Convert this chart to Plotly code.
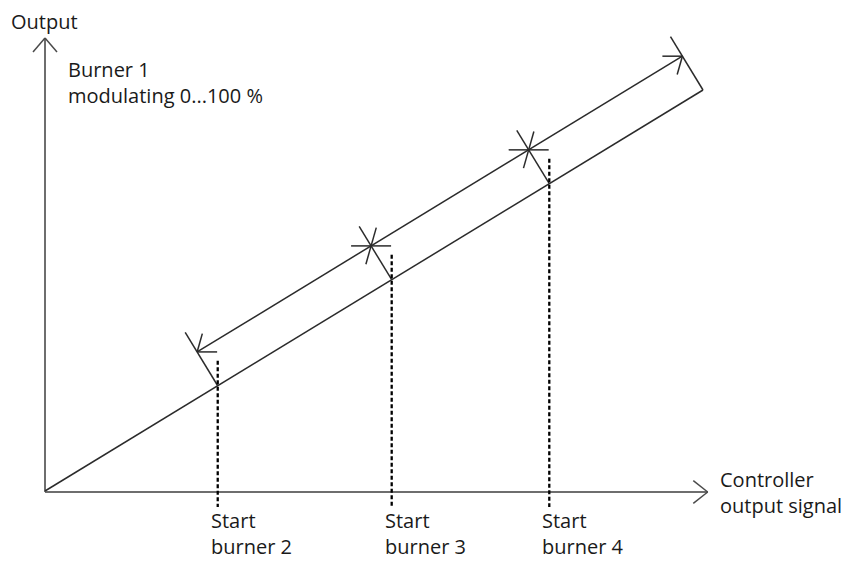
import numpy as np
import plotly.graph_objects as go

# ---- diagram values (controller output signal in %, burner 1 output in %) ----
burner_start_signal = [26.25, 52.69, 76.64]          # where burners 2, 3, 4 start
signal_end = 100.0                                    # end of modulation range
burner_labels = ["Start<br>burner 2", "Start<br>burner 3", "Start<br>burner 4"]
line_signal = [0.0, 100.0]                            # burner 1 modulating 0...100 %
line_output = [0.0, 100.0]
y_axis_title = "Output"
x_axis_title = "Controller<br>output signal"
burner1_label = "Burner 1<br>modulating 0...100 %"

# ---- figure / scale setup ----
W, H = 848, 562
X0, Y0 = 45.0, 491.0      # pixel position of the origin
SX, SY = 6.58, 4.01       # pixels per % on each axis


def px(s, o):
    return np.array([X0 + SX * s, Y0 - SY * o])


def dat(p):
    return (p[0] - X0) / SX, (Y0 - p[1]) / SY


def seg_trace(segs, color, width, dash="solid"):
    xs, ys = [], []
    for seg in segs:
        for p in seg:
            x, y = dat(p)
            xs.append(x)
            ys.append(y)
        xs.append(None)
        ys.append(None)
    return go.Scatter(x=xs, y=ys, mode="lines", hoverinfo="skip", showlegend=False,
                      line=dict(color=color, width=width, dash=dash))


# main line direction in pixel space
a = px(line_signal[0], line_output[0])
b = px(line_signal[1], line_output[1])
d = (b - a) / np.linalg.norm(b - a)
perp = np.array([d[1], -d[0]])  # up-left normal
OFFSET, PERP_LEN = 39.6, 62.5

stages = burner_start_signal + [signal_end]
slope = (line_output[1] - line_output[0]) / (line_signal[1] - line_signal[0])
L = [px(s, s * slope) for s in stages]
U = [p + OFFSET * perp for p in L]

diag_segs = [[a, b], [U[0], U[-1]]]
for p in L:
    diag_segs.append([p, p + PERP_LEN * perp])

# arrowheads on the upper (range) line
R_ARMS = [np.array([-20.0, 0.0]), np.array([-5.2, 18.3])]   # pointing right
L_ARMS = [np.array([20.0, 0.0]), np.array([5.2, -18.3])]    # pointing left
head_segs = []
for i, u in enumerate(U):
    if i < len(U) - 1:
        for arm in L_ARMS:
            head_segs.append([u, u + arm])
    if i > 0:
        for arm in R_ARMS:
            head_segs.append([u, u + arm])

# axes
x_tip = np.array([707.7, Y0 + 1])
y_tip = np.array([X0, 38.0])
origin = np.array([X0, Y0 + 1])
axis_segs = [[origin, x_tip], [origin, y_tip]]
axis_heads = [
    [x_tip, x_tip + np.array([-14.4, -11.3])], [x_tip, x_tip + np.array([-14.4, 11.3])],
    [y_tip, y_tip + np.array([-12.0, 14.0])], [y_tip, y_tip + np.array([12.0, 14.0])],
]

# dashed start lines
dash_segs = []
for p in L[:-1]:
    dash_segs.append([np.array([p[0], p[1] - 25.0]), np.array([p[0], Y0 + 16.0])])

fig = go.Figure()
fig.add_trace(seg_trace(axis_segs, "#6e6e6e", 2.0))
fig.add_trace(seg_trace(axis_heads, "#4a4a4a", 1.5))
fig.add_trace(seg_trace(diag_segs, "#2b2b2b", 1.5))
fig.add_trace(seg_trace(head_segs, "#2b2b2b", 1.5))
fig.add_trace(seg_trace(dash_segs, "#000000", 2.3, dash="4px,2.5px"))

font = dict(family="Open Sans", size=20, color="#1a1a1a")


def label(text, p):
    x, y = dat(p)
    fig.add_annotation(x=x, y=y, text=text, showarrow=False, xanchor="left",
                       yanchor="top", align="left", font=font)


label(y_axis_title, np.array([8.5, 5.6]))
label(burner1_label, np.array([66.0, 53.6]))
label(x_axis_title, np.array([718.0, 464.3]))
for p, t in zip(L[:-1], burner_labels):
    label(t, np.array([p[0] - 9.0, 505.0]))

xr = [dat(np.array([0, 0]))[0], dat(np.array([W, 0]))[0]]
yr = [dat(np.array([0, H]))[1], dat(np.array([0, 0]))[1]]
fig.update_layout(
    width=W, height=H, margin=dict(l=0, r=0, t=0, b=0),
    paper_bgcolor="white", plot_bgcolor="white",
    xaxis=dict(range=xr, visible=False, fixedrange=True),
    yaxis=dict(range=yr, visible=False, fixedrange=True),
    showlegend=False,
)
fig.write_html("out.html", config={"displayModeBar": False},
               post_script="document.body.style.margin='0';document.body.style.overflow='hidden';")
